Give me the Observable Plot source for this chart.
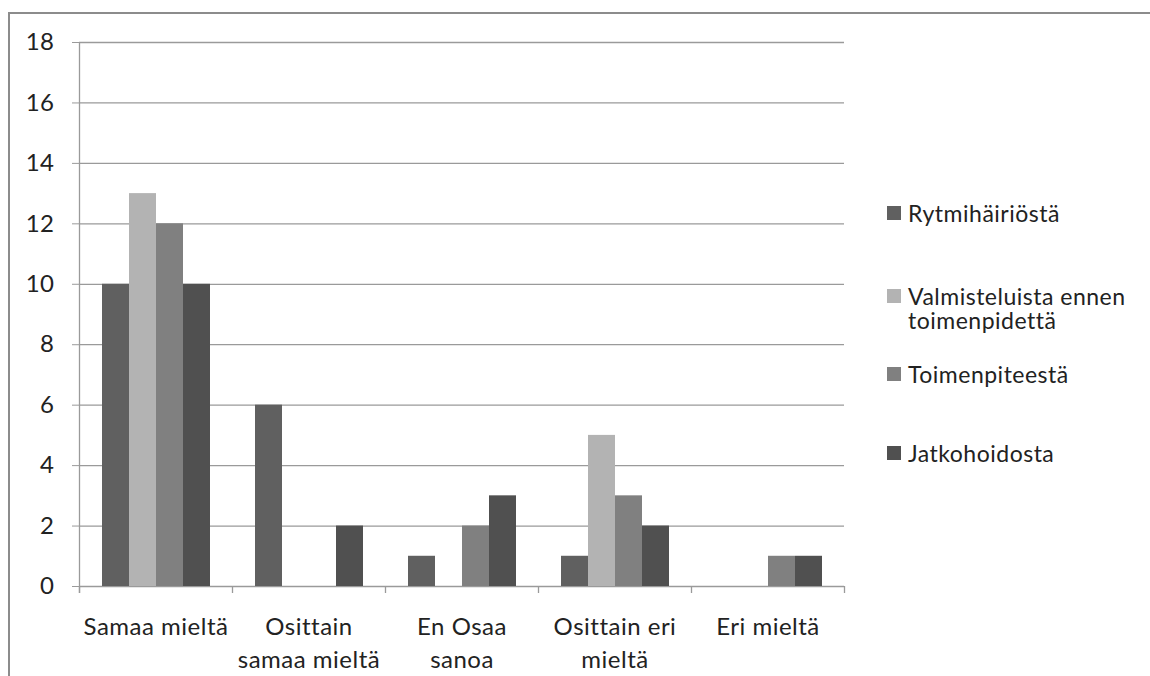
<!DOCTYPE html>
<html>
<head>
<meta charset="utf-8">
<script src="https://cdn.jsdelivr.net/npm/d3@7"></script>
<script src="https://cdn.jsdelivr.net/npm/@observablehq/plot@0.6"></script>
<style>
  html, body { margin: 0; padding: 0; background: #fff; width: 1150px; height: 676px; overflow: hidden; }
  #frame { position: absolute; left: 8px; top: 12px; width: 1160px; height: 700px; border: 2px solid #8c8c8c; box-sizing: border-box; }
  #chart { position: absolute; left: 0; top: 0; }
  #legend { position: absolute; left: 887px; top: 0; font-family: Lato, sans-serif; font-size: 23px; letter-spacing: 0.5px; color: #222; }
  .item { position: absolute; left: 0; display: flex; align-items: flex-start; white-space: pre; line-height: 24px; }
  .sw { width: 14px; height: 14px; margin-top: 5px; margin-right: 7px; flex: none; }
</style>
</head>
<body>
<div id="frame"></div>
<div id="chart"></div>
<div id="legend"></div>
<script>
const categories = ["Samaa mieltä", "Osittain samaa mieltä", "En Osaa sanoa", "Osittain eri mieltä", "Eri mieltä"];
const categoryLabels = ["Samaa mieltä", "Osittain\nsamaa mieltä", "En Osaa\nsanoa", "Osittain eri\nmieltä", "Eri mieltä"];
const series = ["Rytmihäiriöstä", "Valmisteluista ennen toimenpidettä", "Toimenpiteestä", "Jatkohoidosta"];
const legendLabels = ["Rytmihäiriöstä", "Valmisteluista ennen\ntoimenpidettä", "Toimenpiteestä", "Jatkohoidosta"];
const rytmihairiosta = [10, 6, 1, 1, 0];
const valmisteluista = [13, 0, 0, 5, 0];
const toimenpiteesta = [12, 0, 2, 3, 1];
const jatkohoidosta = [10, 2, 3, 2, 1];
const seriesColors = ["#606060", "#b3b3b3", "#808080", "#505050"];
const yTicks = [0, 2, 4, 6, 8, 10, 12, 14, 16, 18];

const values = [rytmihairiosta, valmisteluista, toimenpiteesta, jatkohoidosta];
const rows = [];
categories.forEach((c, i) => series.forEach((s, j) => rows.push({category: c, series: s, value: values[j][i]})));
const labelOf = new Map(categories.map((c, i) => [c, categoryLabels[i]]));

const grid = "#9a9a9a";
const plot = Plot.plot({
  width: 870,
  height: 676,
  marginLeft: 77,
  marginRight: 25,
  marginTop: 42,
  marginBottom: 90,
  style: {fontFamily: "Lato, sans-serif", fontSize: "24px", color: "#222", background: "transparent"},
  fx: {domain: categories, padding: 0, axis: null, label: null},
  x: {domain: series, paddingInner: 0, paddingOuter: 0.78, axis: null, label: null},
  y: {domain: [0, 18], axis: null, label: null},
  color: {domain: series, range: seriesColors},
  marks: [
    Plot.ruleY(yTicks, {stroke: grid, strokeWidth: 1.3}),
    Plot.barY(rows, {fx: "category", x: "series", y: "value", fill: "series"}),
    Plot.axisY({ticks: yTicks, label: null, tickSize: 7, tickPadding: 18, stroke: grid, fill: "#222", fontSize: 24}),
    Plot.axisFx({anchor: "bottom", label: null, tickSize: 0, tickPadding: 25, tickFormat: d => labelOf.get(d), lineHeight: 1.375, fill: "#222", fontSize: 24, style: "letter-spacing: 0.5px"})
  ]
});
document.getElementById("chart").appendChild(plot);

// category boundary ticks and the y-axis line, placed with the plot's own scales
const fx = plot.scale("fx"), y = plot.scale("y");
const bounds = categories.map(c => fx.apply(c));
bounds.push(fx.apply(categories[categories.length - 1]) + fx.bandwidth);
const y0 = y.apply(0), yTop = y.apply(18);
const g = d3.select(plot).append("g").attr("stroke", grid).attr("stroke-width", 1.3);
g.selectAll("line.b").data(bounds).join("line").attr("class", "b")
  .attr("x1", d => d + 0.5).attr("x2", d => d + 0.5).attr("y1", y0).attr("y2", y0 + 7);
g.append("line").attr("x1", bounds[0] + 0.5).attr("x2", bounds[0] + 0.5).attr("y1", yTop).attr("y2", y0 + 7);
d3.select(plot).selectAll("text").style("letter-spacing", "0.5px");

// legend
const legendTops = [201, 284, 362, 441];
const legend = d3.select("#legend");
series.forEach((s, i) => {
  const it = legend.append("div").attr("class", "item").style("top", legendTops[i] + "px");
  it.append("div").attr("class", "sw").style("background", seriesColors[i]);
  it.append("div").text(legendLabels[i]);
});
</script>
</body>
</html>
